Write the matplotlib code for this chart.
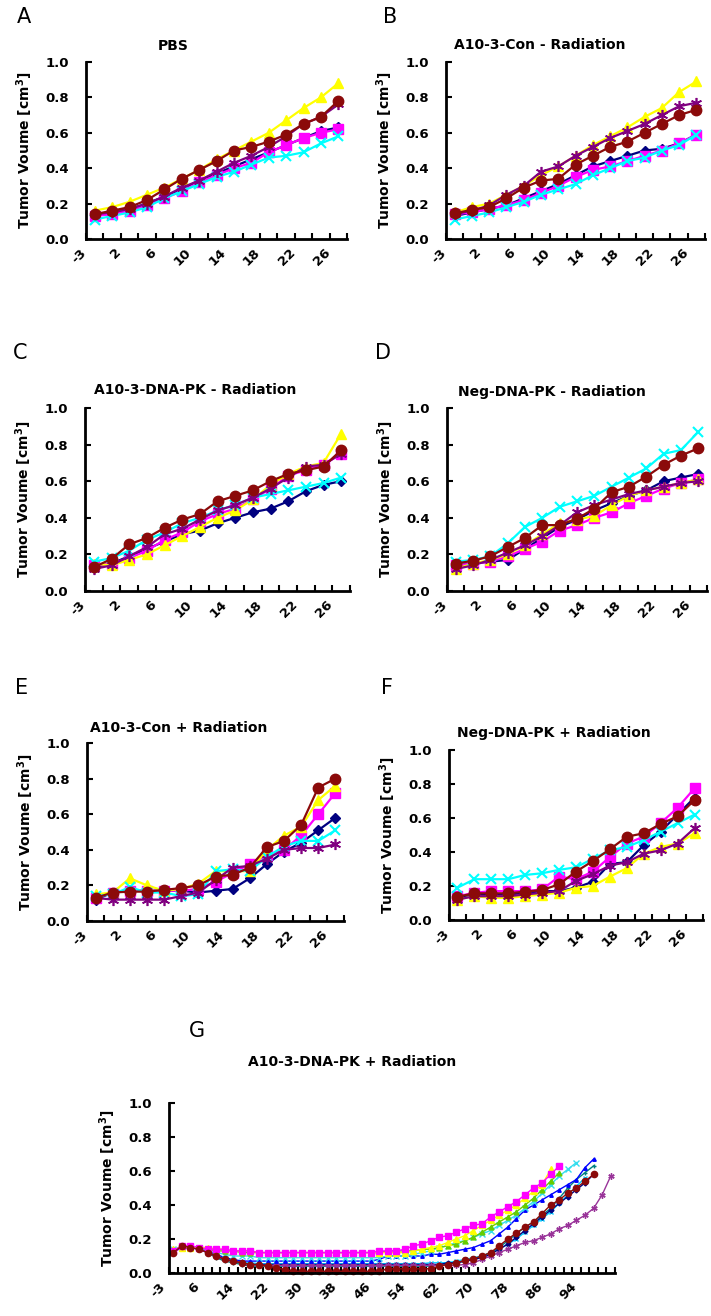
import numpy as np
import matplotlib
matplotlib.use('Agg')
import matplotlib.pyplot as plt
from matplotlib.transforms import ScaledTranslation

W, H = 711, 1316
nan = np.nan

# categories (days) for panels A-F and G
days_short = [-3, 0, 2, 4, 6, 8, 10, 12, 14, 16, 18, 20, 22, 24, 26]
labels_short = ['-3', '2', '6', '10', '14', '18', '22', '26']
days_long = [-3] + list(range(0, 101, 2))
labels_long = ['-3', '6', '14', '22', '30', '38', '46', '54', '62', '70', '78', '86', '94']

# A - PBS
a_navy = [0.13, 0.15, 0.17, 0.20, 0.24, 0.28, 0.33, 0.37, 0.41, 0.45, 0.49, 0.53, 0.57, 0.61, 0.63]
a_magenta = [0.13, 0.14, 0.16, 0.19, 0.23, 0.27, 0.32, 0.36, 0.40, 0.43, 0.49, 0.53, 0.57, 0.60, 0.62]
a_yellow = [0.16, 0.18, 0.21, 0.25, 0.29, 0.34, 0.39, 0.45, 0.50, 0.55, 0.60, 0.67, 0.74, 0.80, 0.88]
a_cyan = [0.11, 0.13, 0.15, 0.18, 0.23, 0.27, 0.31, 0.35, 0.38, 0.42, 0.46, 0.47, 0.49, 0.54, 0.58]
a_purple = [0.14, 0.15, 0.17, 0.20, 0.24, 0.29, 0.33, 0.38, 0.43, 0.47, 0.52, 0.58, 0.65, 0.69, 0.76]
a_brown = [0.14, 0.16, 0.18, 0.22, 0.28, 0.34, 0.39, 0.44, 0.50, 0.52, 0.55, 0.59, 0.65, 0.69, 0.78]

# B - A10-3-Con - Radiation
b_navy = [0.13, 0.15, 0.17, 0.19, 0.23, 0.27, 0.31, 0.36, 0.41, 0.44, 0.47, 0.50, 0.51, 0.54, 0.59]
b_magenta = [0.14, 0.15, 0.17, 0.19, 0.22, 0.26, 0.30, 0.35, 0.39, 0.41, 0.44, 0.47, 0.50, 0.54, 0.59]
b_yellow = [0.15, 0.18, 0.20, 0.25, 0.30, 0.36, 0.41, 0.47, 0.53, 0.58, 0.63, 0.69, 0.74, 0.83, 0.89]
b_cyan = [0.11, 0.13, 0.15, 0.18, 0.21, 0.25, 0.28, 0.31, 0.36, 0.40, 0.44, 0.46, 0.50, 0.53, 0.59]
b_purple = [0.14, 0.16, 0.19, 0.25, 0.30, 0.38, 0.41, 0.47, 0.52, 0.57, 0.61, 0.65, 0.70, 0.75, 0.77]
b_brown = [0.145, 0.165, 0.18, 0.23, 0.29, 0.33, 0.34, 0.42, 0.47, 0.52, 0.55, 0.60, 0.65, 0.70, 0.73]

# C - A10-3-DNA-PK - Radiation
c_navy = [0.13, 0.15, 0.19, 0.23, 0.27, 0.31, 0.33, 0.37, 0.40, 0.43, 0.45, 0.49, 0.545, 0.58, 0.60]
c_magenta = [0.14, 0.15, 0.18, 0.22, 0.28, 0.32, 0.38, 0.42, 0.45, 0.50, 0.56, 0.63, 0.66, 0.69, 0.75]
c_yellow = [0.15, 0.14, 0.17, 0.20, 0.25, 0.30, 0.35, 0.40, 0.44, 0.50, 0.58, 0.64, 0.68, 0.70, 0.86]
c_cyan = [0.16, 0.18, 0.22, 0.28, 0.32, 0.37, 0.40, 0.44, 0.47, 0.51, 0.53, 0.55, 0.57, 0.59, 0.62]
c_purple = [0.12, 0.14, 0.19, 0.24, 0.31, 0.34, 0.39, 0.44, 0.47, 0.51, 0.56, 0.62, 0.68, 0.69, 0.75]
c_brown = [0.13, 0.175, 0.255, 0.29, 0.345, 0.39, 0.42, 0.49, 0.52, 0.55, 0.60, 0.64, 0.66, 0.68, 0.77]

# D - Neg-DNA-PK - Radiation
d_navy = [0.14, 0.15, 0.16, 0.17, 0.23, 0.29, 0.35, 0.39, 0.44, 0.48, 0.52, 0.55, 0.60, 0.62, 0.64]
d_magenta = [0.14, 0.15, 0.16, 0.19, 0.23, 0.27, 0.33, 0.36, 0.40, 0.43, 0.48, 0.52, 0.56, 0.59, 0.61]
d_yellow = [0.12, 0.15, 0.17, 0.20, 0.25, 0.31, 0.37, 0.39, 0.41, 0.47, 0.52, 0.55, 0.57, 0.59, 0.61]
d_cyan = [0.16, 0.17, 0.19, 0.26, 0.35, 0.40, 0.46, 0.49, 0.52, 0.57, 0.62, 0.67, 0.75, 0.77, 0.87]
d_purple = [0.12, 0.14, 0.17, 0.21, 0.25, 0.30, 0.36, 0.43, 0.47, 0.50, 0.53, 0.55, 0.57, 0.59, 0.60]
d_brown = [0.15, 0.165, 0.19, 0.24, 0.29, 0.36, 0.36, 0.395, 0.45, 0.54, 0.57, 0.625, 0.69, 0.74, 0.78]

# E - A10-3-Con + Radiation
e_navy = [0.12, 0.16, 0.17, 0.17, 0.17, 0.17, 0.16, 0.17, 0.18, 0.24, 0.32, 0.39, 0.44, 0.51, 0.58]
e_magenta = [0.13, 0.16, 0.17, 0.17, 0.17, 0.17, 0.18, 0.22, 0.27, 0.32, 0.37, 0.40, 0.48, 0.60, 0.72]
e_yellow = [0.15, 0.16, 0.24, 0.20, 0.17, 0.18, 0.21, 0.28, 0.28, 0.28, 0.40, 0.48, 0.53, 0.68, 0.76]
e_cyan = [0.14, 0.15, 0.19, 0.16, 0.16, 0.14, 0.15, 0.28, 0.29, 0.28, 0.36, 0.42, 0.45, 0.45, 0.51]
e_purple = [0.13, 0.12, 0.12, 0.12, 0.12, 0.14, 0.16, 0.23, 0.30, 0.31, 0.35, 0.40, 0.41, 0.41, 0.43]
e_brown = [0.13, 0.16, 0.165, 0.165, 0.175, 0.185, 0.20, 0.25, 0.26, 0.30, 0.415, 0.45, 0.54, 0.75, 0.80]

# F - Neg-DNA-PK + Radiation
f_navy = [0.13, 0.15, 0.15, 0.15, 0.16, 0.17, 0.17, 0.19, 0.225, 0.33, 0.34, 0.44, 0.52, 0.62, 0.72]
f_magenta = [0.14, 0.16, 0.17, 0.17, 0.17, 0.18, 0.255, 0.24, 0.285, 0.37, 0.45, 0.49, 0.57, 0.66, 0.775]
f_yellow = [0.12, 0.14, 0.13, 0.13, 0.14, 0.15, 0.16, 0.19, 0.20, 0.255, 0.305, 0.39, 0.43, 0.45, 0.51]
f_cyan = [0.19, 0.24, 0.24, 0.24, 0.265, 0.275, 0.295, 0.31, 0.36, 0.41, 0.43, 0.47, 0.52, 0.57, 0.62]
f_purple = [0.12, 0.14, 0.14, 0.14, 0.15, 0.16, 0.17, 0.23, 0.27, 0.32, 0.34, 0.39, 0.41, 0.45, 0.54]
f_brown = [0.137, 0.157, 0.157, 0.157, 0.167, 0.176, 0.21, 0.285, 0.347, 0.416, 0.49, 0.51, 0.565, 0.61, 0.705]

# G - A10-3-DNA-PK + Radiation
g_navy = [0.13, 0.15, 0.15, 0.14, 0.12, 0.10, 0.08, 0.07, 0.06, 0.05,
          0.05, 0.05, 0.05, 0.05, 0.05, 0.05, 0.05, 0.05, 0.05, 0.05,
          0.05, 0.05, 0.05, 0.05, 0.05, 0.05, 0.05, 0.05, 0.05, 0.05,
          0.05, 0.05, 0.06, 0.06, 0.07, 0.08, 0.09, 0.11, 0.14, 0.17,
          0.21, 0.25, 0.29, 0.33, 0.37, 0.41, 0.45, 0.49, 0.53, 0.58, nan, nan]
g_magenta = [0.13, 0.16, 0.16, 0.15, 0.14, 0.14, 0.14, 0.13, 0.13, 0.13,
             0.12, 0.12, 0.12, 0.12, 0.12, 0.12, 0.12, 0.12, 0.12, 0.12,
             0.12, 0.12, 0.12, 0.12, 0.13, 0.13, 0.13, 0.14, 0.16, 0.17,
             0.19, 0.21, 0.22, 0.24, 0.26, 0.28, 0.29, 0.33, 0.36, 0.39,
             0.42, 0.46, 0.50, 0.53, 0.58, 0.63, nan, nan, nan, nan, nan, nan]
g_yellow = [0.14, 0.15, 0.15, 0.15, 0.15, 0.14, 0.14, 0.13, 0.13, 0.13,
            0.12, 0.12, 0.12, 0.12, 0.12, 0.12, 0.12, 0.12, 0.12, 0.12,
            0.12, 0.12, 0.12, 0.12, 0.12, 0.12, 0.12, 0.12, 0.13, 0.14,
            0.15, 0.16, 0.18, 0.20, 0.22, 0.25, 0.28, 0.31, 0.34, 0.37,
            0.40, 0.44, 0.48, 0.52, 0.61, nan, nan, nan, nan, nan, nan, nan]
g_cyan = [0.14, 0.15, 0.15, 0.15, 0.13, 0.12, 0.11, 0.10, 0.10, 0.10,
          0.09, 0.09, 0.09, 0.09, 0.09, 0.09, 0.09, 0.09, 0.09, 0.09,
          0.09, 0.09, 0.09, 0.09, 0.09, 0.10, 0.10, 0.10, 0.11, 0.12,
          0.13, 0.15, 0.16, 0.18, 0.19, 0.21, 0.23, 0.25, 0.28, 0.31,
          0.34, 0.38, 0.42, 0.47, 0.52, 0.57, 0.61, 0.65, nan, nan, nan, nan]
g_purple = [0.12, 0.15, 0.15, 0.14, 0.12, 0.10, 0.08, 0.07, 0.06, 0.05,
            0.045, 0.045, 0.045, 0.045, 0.045, 0.045, 0.045, 0.045, 0.045, 0.045,
            0.045, 0.045, 0.045, 0.045, 0.045, 0.045, 0.045, 0.045, 0.045, 0.045,
            0.045, 0.045, 0.045, 0.045, 0.05, 0.06, 0.08, 0.10, 0.12, 0.14,
            0.16, 0.18, 0.19, 0.21, 0.23, 0.26, 0.28, 0.31, 0.34, 0.38, 0.46, 0.57]
g_brown = [0.12, 0.16, 0.15, 0.14, 0.12, 0.10, 0.08, 0.07, 0.06, 0.05,
           0.05, 0.04, 0.03, 0.02, 0.01, 0.01, 0.01, 0.01, 0.01, 0.01,
           0.01, 0.01, 0.01, 0.01, 0.01, 0.025, 0.025, 0.025, 0.025, 0.025,
           0.025, 0.04, 0.05, 0.06, 0.075, 0.085, 0.10, 0.12, 0.16, 0.20,
           0.235, 0.27, 0.30, 0.35, 0.40, 0.43, 0.47, 0.50, 0.54, 0.58, nan, nan]
g_teal = [0.13, 0.15, 0.15, 0.14, 0.12, 0.09, 0.07, 0.06, 0.05, 0.04,
          0.04, 0.04, 0.04, 0.04, 0.04, 0.04, 0.04, 0.04, 0.04, 0.04,
          0.04, 0.04, 0.04, 0.04, 0.04, 0.04, 0.04, 0.04, 0.04, 0.04,
          0.04, 0.05, 0.05, 0.06, 0.07, 0.08, 0.10, 0.12, 0.15, 0.19,
          0.23, 0.27, 0.30, 0.34, 0.38, 0.44, 0.50, 0.55, 0.59, 0.63, nan, nan]
g_blue = [0.13, 0.15, 0.15, 0.15, 0.13, 0.11, 0.09, 0.08, 0.07, 0.07,
          0.07, 0.07, 0.07, 0.07, 0.07, 0.07, 0.07, 0.07, 0.07, 0.07,
          0.07, 0.07, 0.07, 0.07, 0.08, 0.10, 0.10, 0.10, 0.10, 0.10,
          0.11, 0.11, 0.12, 0.13, 0.14, 0.15, 0.17, 0.19, 0.23, 0.27,
          0.32, 0.37, 0.40, 0.43, 0.46, 0.49, 0.52, 0.55, 0.62, 0.67, nan, nan]
g_sky = [0.14, 0.15, 0.15, 0.14, 0.12, 0.10, 0.08, 0.07, 0.06, 0.06,
         0.055, 0.055, 0.055, 0.055, 0.055, 0.055, 0.055, 0.055, 0.055, 0.055,
         0.055, 0.055, 0.055, 0.055, 0.055, 0.055, 0.055, 0.055, 0.055, 0.055,
         0.06, 0.06, 0.06, 0.07, 0.08, 0.09, 0.10, 0.12, 0.14, 0.17,
         0.20, 0.24, 0.28, 0.32, 0.36, 0.41, 0.46, 0.51, 0.56, nan, nan, nan]
g_green = [0.14, 0.15, 0.15, 0.15, 0.14, 0.13, 0.13, 0.13, 0.12, 0.12,
           0.12, 0.12, 0.12, 0.12, 0.12, 0.12, 0.12, 0.12, 0.12, 0.12,
           0.12, 0.12, 0.12, 0.12, 0.12, 0.13, 0.13, 0.13, 0.13, 0.14,
           0.14, 0.15, 0.16, 0.17, 0.19, 0.21, 0.24, 0.27, 0.30, 0.33,
           0.36, 0.40, 0.44, 0.49, 0.54, 0.59, nan, nan, nan, nan, nan, nan]

# series styles (Excel default order)
styles = [
    dict(color='#000080', marker='D', ms=5),
    dict(color='#FF00FF', marker='s', ms=6.5),
    dict(color='#FFFF00', marker='^', ms=7.5),
    dict(color='#00FFFF', marker='x', ms=7, mew=1.5),
    dict(color='#800080', marker=(6, 2, 0), ms=8, mew=1.2),
    dict(color='#8B0A0A', marker='o', ms=7.5),
]

panels = [
    ('A', 'PBS', [a_navy, a_magenta, a_yellow, a_cyan, a_purple, a_brown],
     (86, 62, 347, 239), (173, 46), (24, 17)),
    ('B', 'A10-3-Con - Radiation', [b_navy, b_magenta, b_yellow, b_cyan, b_purple, b_brown],
     (446, 62, 705, 239), (540, 45), (390, 17)),
    ('C', 'A10-3-DNA-PK - Radiation', [c_navy, c_magenta, c_yellow, c_cyan, c_purple, c_brown],
     (85, 408, 350, 591), (195, 390), (20, 353)),
    ('D', 'Neg-DNA-PK - Radiation', [d_navy, d_magenta, d_yellow, d_cyan, d_purple, d_brown],
     (447, 408, 707, 591), (552, 392), (383, 353)),
    ('E', 'A10-3-Con + Radiation', [e_navy, e_magenta, e_yellow, e_cyan, e_purple, e_brown],
     (87, 743, 344, 921), (179, 728), (22, 688)),
    ('F', 'Neg-DNA-PK + Radiation', [f_navy, f_magenta, f_yellow, f_cyan, f_purple, f_brown],
     (449, 750, 703, 920), (554, 733), (387, 688)),
]

ylab = 'Tumor Voume [cm$^{\\mathbf{3}}$]'

fig = plt.figure(figsize=(W / 100, H / 100), dpi=100)


def make_axes(rect, n, label_step, labels, title, title_xy, letter, letter_xy):
    x0, y0, x1, y1 = rect
    ax = fig.add_axes([x0 / W, 1 - y1 / H, (x1 - x0) / W, (y1 - y0) / H])
    ax.set_xlim(-0.5, n - 0.5)
    ax.set_ylim(0, 1.0)
    for s in ['top', 'right']:
        ax.spines[s].set_visible(False)
    for s in ['left', 'bottom']:
        ax.spines[s].set_linewidth(2)
    ax.set_yticks([0, 0.2, 0.4, 0.6, 0.8, 1.0])
    ax.set_yticklabels(['0.0', '0.2', '0.4', '0.6', '0.8', '1.0'], fontweight='bold', fontsize=9.5)
    ax.tick_params(axis='y', direction='in', length=4, width=1.5, pad=12)
    ax.set_xticks(np.arange(0, n, label_step))
    ax.set_xticklabels(labels, rotation=45, ha='right', va='top', fontweight='bold', fontsize=9.5)
    ax.set_xticks(np.arange(-0.5, n, 1), minor=True)
    ax.tick_params(axis='x', which='major', length=0, pad=5)
    ax.tick_params(axis='x', which='minor', direction='in', length=4, width=1.5)
    off = ScaledTranslation(-4 / 72, 0, fig.dpi_scale_trans)
    for lab in ax.get_xticklabels():
        lab.set_transform(lab.get_transform() + off)
    fig.text((x0 - 61) / W, 1 - ((y0 + y1) / 2) / H, ylab, rotation=90,
             ha='center', va='center', fontweight='bold', fontsize=10)
    fig.text(title_xy[0] / W, 1 - title_xy[1] / H, title, ha='center', va='center',
             fontweight='bold', fontsize=10)
    fig.text(letter_xy[0] / W, 1 - letter_xy[1] / H, letter, ha='center', va='center',
             fontsize=15)
    return ax


for letter, title, series, rect, title_xy, letter_xy in panels:
    ax = make_axes(rect, len(days_short), 2, labels_short, title, title_xy, letter, letter_xy)
    x = np.arange(len(days_short))
    for vals, st in zip(series, styles):
        ax.plot(x, vals, color=st['color'], marker=st['marker'], ms=st['ms'],
                mew=st.get('mew', 1), lw=1.6, clip_on=False)

# panel G
axg = make_axes((169, 1103, 615, 1273), len(days_long), 4, labels_long,
                'A10-3-DNA-PK + Radiation', (352, 1062), 'G', (197, 1031))
xg = np.arange(len(days_long))
g_series = [
    (g_sky, '#00CCFF', 'x', 3.5),
    (g_teal, '#008080', '+', 3.5),
    (g_navy, '#000080', 'D', 2.5),
    (g_purple, '#993399', (6, 2, 0), 4.5),
    (g_blue, '#0000FF', '^', 2.5),
    (g_cyan, '#33DDEE', 'x', 4),
    (g_green, '#66CC00', '^', 3.5),
    (g_yellow, '#FFFF00', '^', 5),
    (g_magenta, '#FF00FF', 's', 4.5),
    (g_brown, '#8B0A0A', 'o', 4.5),
]
for vals, col, mk, ms in g_series:
    axg.plot(xg, vals, color=col, marker=mk, ms=ms, lw=1, mew=1, clip_on=False)

fig.savefig('out.png', dpi=100)
